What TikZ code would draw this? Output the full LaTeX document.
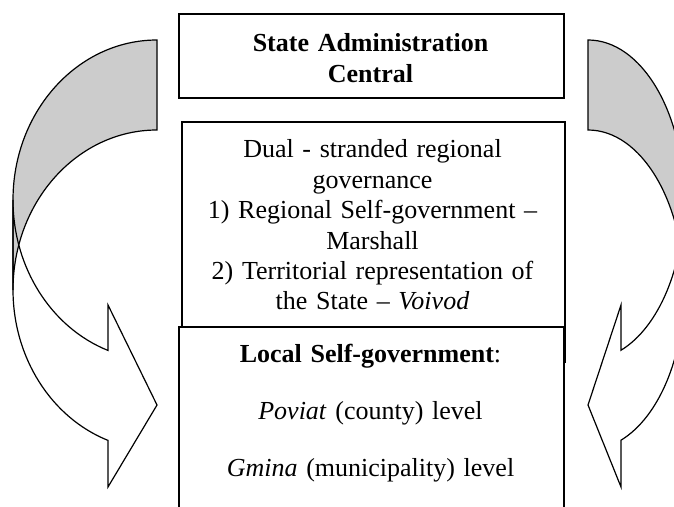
\documentclass[tikz,border=0pt]{standalone}
\usepackage{fontspec}
\setmainfont{Liberation Serif}
\definecolor{backgray}{HTML}{CCCCCC}
\begin{document}
\begin{tikzpicture}[x=1pt,y=1pt,
  box/.style={draw=black, line width=1.5pt, fill=white, inner sep=0pt, anchor=south west},
  bandline/.style={draw=black, line width=1.2pt, line join=miter},
  txt/.style={text width=380pt, align=center, inner sep=0pt, anchor=base},
  big/.style={font=\fontsize{26}{30.4}\selectfont},
  bigbold/.style={font=\fontsize{26}{30.4}\selectfont\bfseries},
]
\useasboundingbox (0,0) rectangle (674,506);
\clip (0,0) rectangle (674,506);

% ---------- left curved arrow ----------
\fill[white] (13,306) arc[start angle=180, end angle=250.1, x radius=144, y radius=160]
  -- (108,201) -- (157,101) -- (108,19) -- (108,65.6)
  arc[start angle=250.1, end angle=180, x radius=144, y radius=160] -- cycle;
\fill[backgray] (157,376) arc[start angle=90, end angle=180, x radius=144, y radius=160]
  -- (13,306) arc[start angle=180, end angle=90, x radius=144, y radius=160] -- cycle;
\draw[bandline] (13,306) arc[start angle=180, end angle=250.1, x radius=144, y radius=160]
  -- (108,201) -- (157,101) -- (108,19) -- (108,65.6)
  arc[start angle=250.1, end angle=180, x radius=144, y radius=160] -- cycle;
\draw[bandline] (157,376) arc[start angle=90, end angle=180, x radius=144, y radius=160]
  -- (13,306) arc[start angle=180, end angle=90, x radius=144, y radius=160] -- cycle;

% ---------- right curved arrow ----------
\fill[white] (684,306) arc[start angle=0, end angle=-69.9, x radius=96, y radius=160]
  -- (621,201) -- (588,101) -- (621,19) -- (621,65.8)
  arc[start angle=-69.9, end angle=0, x radius=96, y radius=160] -- cycle;
\fill[backgray] (588,376) arc[start angle=90, end angle=0, x radius=96, y radius=160]
  -- (684,306) arc[start angle=0, end angle=90, x radius=96, y radius=160] -- cycle;
\draw[bandline] (684,306) arc[start angle=0, end angle=-69.9, x radius=96, y radius=160]
  -- (621,201) -- (588,101) -- (621,19) -- (621,65.8)
  arc[start angle=-69.9, end angle=0, x radius=96, y radius=160] -- cycle;
\draw[bandline] (588,376) arc[start angle=90, end angle=0, x radius=96, y radius=160]
  -- (684,306) arc[start angle=0, end angle=90, x radius=96, y radius=160] -- cycle;

% ---------- boxes ----------
\node[box, minimum width=385pt, minimum height=84pt] (central) at (178,407) {};
\node[box, minimum width=383pt, minimum height=240pt] (regional) at (181,143) {};
\node[box, minimum width=385pt, minimum height=190pt, line width=1.8pt] (local) at (178,-12) {};

% ---------- texts ----------
\node[txt, bigbold] (centraltext) at (370.5,454) {State Administration\\Central};
\node[txt, big] (regionaltext) at (372.5,348) {Dual - stranded regional\\governance\\1) Regional Self-government –\\Marshall\\2) Territorial representation of\\the State – \textit{Voivod}};
\node[txt, big] (localtext) at (370.5,143) {\textbf{Local Self-government}:\\[26.6pt]\textit{Poviat} (county) level\\[26.6pt]\textit{Gmina} (municipality) level};
\end{tikzpicture}
\end{document}
